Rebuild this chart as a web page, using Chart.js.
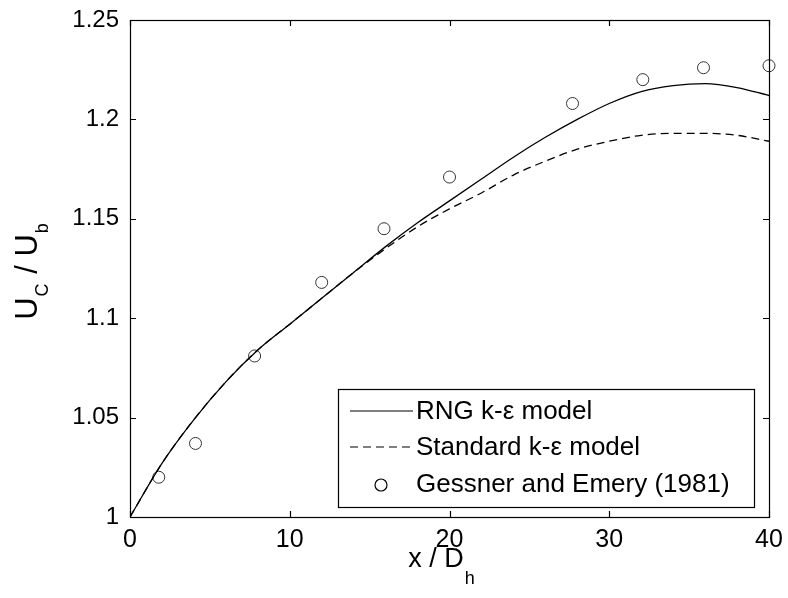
<!DOCTYPE html>
<html>
<head>
  <script src="https://cdn.jsdelivr.net/npm/chart.js"></script>
  <title>Centreline velocity</title>
  <style>
    body { margin: 0; background: #fff; }
    #wrap { width: 788px; height: 598px; }
  </style>
</head>
<body>
  <div id="wrap"><canvas id="chart" width="788" height="598"></canvas></div>

  <script>
    // x / Dh stations for the two model curves
    let modelX = [0, 2, 4, 6, 8, 10, 12, 14, 16, 18, 20, 22, 24, 26, 28, 30, 32, 34, 36, 38, 40];
    let rngY = [1.000, 1.027, 1.049, 1.068, 1.084, 1.097, 1.110, 1.123, 1.136, 1.148, 1.159, 1.170, 1.181, 1.191, 1.200, 1.208, 1.214, 1.217, 1.218, 1.216, 1.212];
    let stdY = [1.000, 1.027, 1.049, 1.068, 1.084, 1.097, 1.110, 1.123, 1.135, 1.146, 1.155, 1.163, 1.172, 1.179, 1.185, 1.189, 1.192, 1.193, 1.193, 1.192, 1.189];

    // measurements
    let expX = [1.8, 4.1, 7.8, 12.0, 15.9, 20.0, 27.7, 32.1, 35.9, 40.0];
    let expY = [1.020, 1.037, 1.081, 1.118, 1.145, 1.171, 1.208, 1.220, 1.226, 1.227];

    let xTicks = [0, 10, 20, 30, 40];
    let yTicks = [1, 1.05, 1.1, 1.15, 1.2, 1.25];

    let seriesNames = ['RNG k-\u03b5 model', 'Standard k-\u03b5 model', 'Gessner and Emery (1981)'];

    const FONT = '"Liberation Sans", Arial, Helvetica, sans-serif';
    const INK = '#000';

    function pts(xs, ys) {
      return xs.map((x, i) => ({ x: x, y: ys[i] }));
    }

    // inward ticks on all four sides, MATLAB style
    const boxTicks = {
      id: 'boxTicks',
      afterDraw(chart) {
        let c = chart.ctx, a = chart.chartArea;
        let xs = chart.scales.x, ys = chart.scales.y;
        let len = 6;
        c.save();
        c.strokeStyle = INK;
        c.lineWidth = 1.2;
        c.strokeRect(a.left + 0.5, a.top + 0.5, a.right - a.left, a.bottom - a.top);
        c.beginPath();
        xTicks.forEach(v => {
          let px = Math.round(xs.getPixelForValue(v)) + 0.5;
          c.moveTo(px, a.bottom); c.lineTo(px, a.bottom - len);
          c.moveTo(px, a.top); c.lineTo(px, a.top + len);
        });
        yTicks.forEach(v => {
          let py = Math.round(ys.getPixelForValue(v)) + 0.5;
          c.moveTo(a.left, py); c.lineTo(a.left + len, py);
          c.moveTo(a.right, py); c.lineTo(a.right - len, py);
        });
        c.stroke();
        c.restore();
      }
    };

    // axis titles with subscripts
    const axisTitles = {
      id: 'axisTitles',
      afterDraw(chart) {
        let c = chart.ctx;
        c.save();
        c.fillStyle = INK;
        c.textBaseline = 'alphabetic';

        // x / D_h
        let big = '27px ' + FONT, small = '18px ' + FONT;
        c.font = big;
        let w1 = c.measureText('x / D').width;
        c.font = small;
        let w2 = c.measureText('h').width;
        let x0 = 441 - (w1 + w2) / 2;
        c.font = big;
        c.fillText('x / D', x0, 567);
        c.font = small;
        c.fillText('h', x0 + w1 + 1, 584);

        // U_C / U_b, rotated
        c.translate(37, 271);
        c.rotate(-Math.PI / 2);
        let parts = [['U', '31px', 0], ['C', '18px', 11], [' / U', '31px', 0], ['b', '18px', 11]];
        let total = 0;
        parts.forEach(p => { c.font = p[1] + ' ' + FONT; total += c.measureText(p[0]).width + 1; });
        let px = -total / 2;
        parts.forEach(p => {
          c.font = p[1] + ' ' + FONT;
          c.fillText(p[0], px, p[2]);
          px += c.measureText(p[0]).width + 1;
        });
        c.restore();
      }
    };

    // legend box inside the plot, lower right
    const boxLegend = {
      id: 'boxLegend',
      afterDraw(chart) {
        let c = chart.ctx;
        let left = 338, top = 389, right = 754, bottom = 507;
        c.save();
        c.fillStyle = '#fff';
        c.fillRect(left, top, right - left, bottom - top);
        c.strokeStyle = INK;
        c.lineWidth = 1.2;
        c.strokeRect(left + 0.5, top + 0.5, right - left, bottom - top);

        let rows = [411, 447, 484];
        c.font = '26px ' + FONT;
        c.textBaseline = 'middle';
        chart.data.datasets.forEach((ds, i) => {
          let y = rows[i];
          c.strokeStyle = INK;
          c.lineWidth = 1.2;
          if (ds.showLine) {
            c.setLineDash(ds.borderDash || []);
            c.beginPath();
            c.moveTo(350, y); c.lineTo(413, y);
            c.stroke();
            c.setLineDash([]);
          } else {
            c.beginPath();
            c.arc(381, y + 1, 6, 0, Math.PI * 2);
            c.stroke();
          }
          c.fillStyle = INK;
          c.fillText(ds.label, 416, y + 1);
        });
        c.restore();
      }
    };

    let ctx = document.getElementById('chart').getContext('2d');
    new Chart(ctx, {
      type: 'scatter',
      data: {
        datasets: [{
          label: seriesNames[0],
          data: pts(modelX, rngY),
          showLine: true,
          borderColor: INK,
          borderWidth: 1.3,
          pointRadius: 0,
          cubicInterpolationMode: 'monotone',
          fill: false
        }, {
          label: seriesNames[1],
          data: pts(modelX, stdY),
          showLine: true,
          borderColor: INK,
          borderWidth: 1.3,
          borderDash: [8, 5],
          pointRadius: 0,
          cubicInterpolationMode: 'monotone',
          fill: false
        }, {
          label: seriesNames[2],
          data: pts(expX, expY),
          showLine: false,
          pointStyle: 'circle',
          pointRadius: 6,
          pointBorderWidth: 1,
          pointBorderColor: '#333',
          pointBackgroundColor: 'rgba(0,0,0,0)',
          clip: false
        }]
      },
      options: {
        responsive: false,
        animation: false,
        layout: { padding: { top: 20, right: 19, left: 0, bottom: 0 } },
        plugins: {
          legend: { display: false },
          tooltip: { enabled: false }
        },
        scales: {
          x: {
            type: 'linear',
            min: 0, max: 40,
            afterBuildTicks: s => { s.ticks = xTicks.map(v => ({ value: v })); },
            afterFit: s => { s.height = 81; },
            grid: { display: false },
            border: { display: false },
            ticks: { color: INK, font: { family: FONT, size: 25 }, padding: 0, maxRotation: 0 }
          },
          y: {
            type: 'linear',
            min: 1, max: 1.25,
            afterBuildTicks: s => { s.ticks = yTicks.map(v => ({ value: v })); },
            afterFit: s => { s.width = 130; },
            grid: { display: false },
            border: { display: false },
            ticks: { color: INK, font: { family: FONT, size: 24 }, padding: 3, callback: v => String(v) }
          }
        }
      },
      plugins: [boxTicks, axisTitles, boxLegend]
    });
  </script>
</body>
</html>
